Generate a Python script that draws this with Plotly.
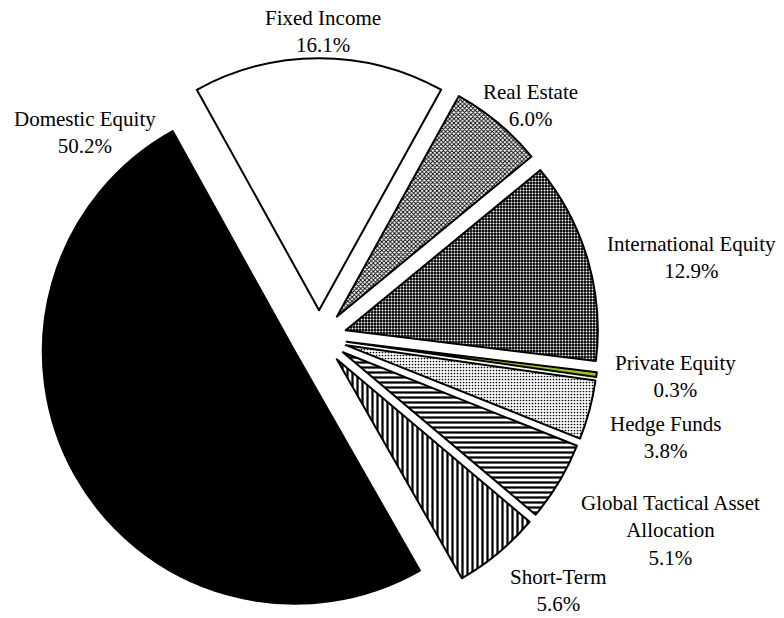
import plotly.graph_objects as go

# ---- data ----
categories = ["Fixed Income", "Real Estate", "International Equity", "Private Equity",
              "Hedge Funds", "Global Tactical Asset<br>Allocation", "Short-Term", "Domestic Equity"]
values = [16.1, 6.0, 12.9, 0.3, 3.8, 5.1, 5.6, 50.2]

# ---- styles ----
fill_colors = ["white", "white", "black", "#99cc00", "white", "white", "white", "black"]
pat_shapes = ["", "x", ".", "", ".", "-", "|", ""]
pat_fg = ["black", "black", "white", "black", "black", "black", "black", "black"]
pat_size = [4, 3, 3, 4, 3, 5, 5, 4]
pat_solid = [0.3, 0.5, 0.35, 0.3, 0.25, 0.45, 0.45, 0.3]

W, H = 784, 618
# label block centres in pixels (layout, not data)
label_px = [(323, 31), (530, 106), (691, 257), (675, 376),
            (665, 437), (670, 530), (558, 590), (85, 132)]

fig = go.Figure(go.Pie(
    labels=categories,
    values=values,
    sort=False,
    direction="clockwise",
    rotation=-29,
    pull=[0.11] * len(values),
    textinfo="none",
    hoverinfo="skip",
    marker=dict(
        colors=fill_colors,
        line=dict(color="black", width=2),
        pattern=dict(shape=pat_shapes, fgcolor=pat_fg, bgcolor=fill_colors,
                     size=pat_size, solidity=pat_solid, fillmode="replace"),
    ),
    domain=dict(x=[0.05, 0.7639], y=[0, 560 / 618]),
    showlegend=False,
))

for cat, v, (px, py) in zip(categories, values, label_px):
    fig.add_annotation(
        x=px / W, y=1 - py / H, xref="paper", yref="paper",
        text=f"{cat}<br>{v:.1f}%", showarrow=False,
        xanchor="center", yanchor="middle", align="center",
        font=dict(family="Liberation Serif", size=21, color="black"),
    )

fig.update_layout(
    width=W, height=H,
    margin=dict(l=0, r=0, t=0, b=0),
    paper_bgcolor="white", plot_bgcolor="white",
    font=dict(family="Liberation Serif", size=21, color="black"),
)

fig.write_html("out.html")
